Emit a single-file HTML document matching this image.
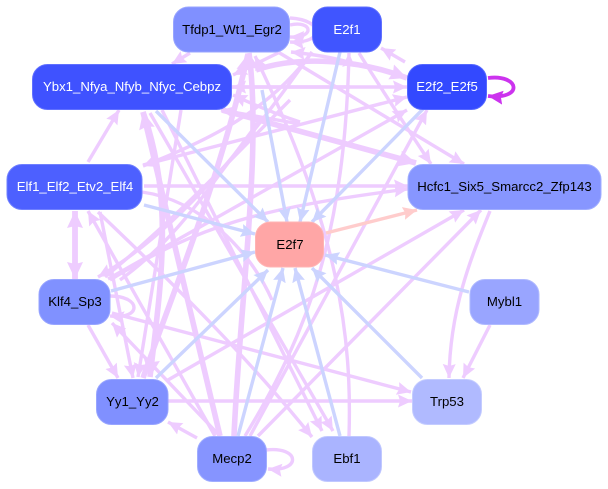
<!DOCTYPE html>
<html><head><meta charset="utf-8"><style>
html,body{margin:0;padding:0;background:#fff;width:608px;height:489px;overflow:hidden}
svg{display:block}
text{font-family:"Liberation Sans",sans-serif;font-size:13.2px;text-anchor:middle}
.p{fill:none;stroke:#eeccff;stroke-width:3.4;marker-end:url(#mp)}
.t{fill:none;stroke:#eeccff;stroke-width:5.6;marker-end:url(#mt)}
.n{fill:none;stroke:#eeccff;stroke-width:3.4}
.b{fill:none;stroke:#ccd4ff;stroke-width:3.4;marker-end:url(#mb)}
.r rect{stroke-width:1}
</style></head><body>
<svg width="608" height="489" viewBox="0 0 608 489" xmlns="http://www.w3.org/2000/svg">
<defs>
<marker id="mp" markerUnits="userSpaceOnUse" markerWidth="15" markerHeight="15" refX="14" refY="7.5" orient="auto"><path d="M0,1 L14,7.5 L0,14 L2,7.5 Z" fill="#eeccff"/></marker>
<marker id="mt" markerUnits="userSpaceOnUse" markerWidth="18" markerHeight="18" refX="17" refY="9" orient="auto"><path d="M0,1 L17,9 L0,17 L2,9 Z" fill="#eeccff"/></marker>
<marker id="mb" markerUnits="userSpaceOnUse" markerWidth="15" markerHeight="15" refX="14" refY="7.5" orient="auto"><path d="M0,1 L14,7.5 L0,14 L2,7.5 Z" fill="#ccd4ff"/></marker>
<marker id="mr" markerUnits="userSpaceOnUse" markerWidth="15" markerHeight="15" refX="14" refY="7.5" orient="auto"><path d="M0,1 L14,7.5 L0,14 L2,7.5 Z" fill="#ffcccc"/></marker>
<marker id="mm" markerUnits="userSpaceOnUse" markerWidth="16" markerHeight="16" refX="15" refY="8" orient="auto"><path d="M0,1 L15,8 L0,15 L2,8 Z" fill="#cc33ee"/></marker>
</defs>

<!-- pink edges -->
<path class="p" d="M190,53 L172,64"/>
<path class="p" d="M88,162 L119,110"/>
<path class="p" d="M405,62 L381,48"/>
<path class="p" d="M232,87 L407,87"/>
<path class="p" d="M350,87 L232,87"/>
<path class="t" d="M256,70 C300,55 360,60 407,78"/>
<path class="p" d="M360,66 C340,58 310,54 291,52"/>
<path class="p" d="M278,52 L464,164"/>
<path class="p" d="M359,53 C385,95 405,125 431,164"/>
<path class="t" d="M222,110 L416,163"/>
<path class="p" d="M300,124 L221,110"/>
<path class="p" d="M280,52 L233,75"/>
<path class="p" d="M300,122 C270,112 250,103 233,95"/>
<path class="t" d="M234,436 C240,300 262,150 249,53"/>
<path class="p" d="M349,436 C352,340 340,230 255,56"/>
<path class="p" d="M245,436 C310,330 345,230 349,53"/>
<path class="p" d="M250,436 L427,110"/>
<path class="p" d="M258,436 L481,210"/>
<path class="p" d="M168,380 L464,210"/>
<path class="t" d="M220,436 L143,112"/>
<path class="t" d="M143,378 C170,300 220,180 248,54"/>
<path class="t" d="M143,112 C175,200 160,290 150,377"/>
<path class="p" d="M181,110 L138,377"/>
<path class="p" d="M88,325 L118,378"/>
<path class="p" d="M100,212 L133,378"/>
<path class="t" d="M75,279 L75,211"/>
<path class="t" d="M75,211 L75,279"/>
<path class="p" d="M215,436 L88,211"/>
<path class="p" d="M98,212 C180,290 250,360 312,437"/>
<path class="p" d="M150,113 L333,431"/>
<path class="p" d="M162,110 L322,431"/>
<path class="p" d="M220,436 L112,323"/>
<path class="p" d="M112,313 L411,392"/>
<path class="p" d="M168,401 L412,401"/>
<path class="p" d="M490,211 C470,260 450,310 449,378"/>
<path class="p" d="M490,325 L463,378"/>
<path class="p" d="M144,186 L408,186"/>
<path class="p" d="M110,280 C200,225 260,208 408,189"/>
<path class="p" d="M143,165 L407,97"/>
<path class="p" d="M312,52 C270,110 210,140 143,166"/>
<path class="p" d="M108,279 L407,110"/>
<path class="p" d="M312,52 C250,140 180,230 98,277"/>
<path class="n" d="M105,277 C180,215 240,150 290,100"/>
<path class="n" d="M120,280 C175,240 200,200 260,120"/>
<path class="n" d="M142,192 C200,200 250,250 272,300"/>
<path class="p" d="M197,438 L168,422"/>
<path class="p" d="M266,450 C300,446 302,472 268,469"/>
<path class="p" d="M110,296 C142,296 142,320 110,316"/>
<path class="p" d="M290,18 C325,20 325,44 290,42"/>
<path class="p" d="M290,25 C312,20 316,38 290,37"/>

<!-- blue edges -->
<path class="b" d="M156,111 L268,222"/>
<path class="b" d="M262,90 L287,222"/>
<path class="b" d="M340,52 L300,222"/>
<path class="b" d="M423,109 L312,222"/>
<path class="b" d="M144,205 L255,234"/>
<path class="b" d="M111,291 L255,252"/>
<path class="b" d="M156,378 L268,270"/>
<path class="b" d="M238,436 L283,268"/>
<path class="b" d="M340,436 L295,268"/>
<path class="b" d="M422,378 L312,268"/>
<path class="b" d="M469,292 L325,255"/>
<path d="M326,233 L417,210" fill="none" stroke="#ffcccc" stroke-width="3.4" marker-end="url(#mr)"/>
<path d="M488,78 C520,74 524,100 488,96" fill="none" stroke="#cc33ee" stroke-width="3.8" marker-end="url(#mm)"/>

<!-- nodes -->
<g class="r">
<rect x="173.5" y="7" width="116" height="45" rx="15" fill="#8090ff" stroke="#98a5ff"/>
<rect x="312.5" y="7" width="69" height="45" rx="15" fill="#4055ff" stroke="#6070ff"/>
<rect x="32.5" y="64.5" width="199" height="45" rx="15" fill="#3f52ff" stroke="#6070ff"/>
<rect x="407.5" y="64.5" width="79" height="45" rx="15" fill="#3349ff" stroke="#5568ff"/>
<rect x="7" y="164.5" width="135" height="45" rx="15" fill="#4d60ff" stroke="#7080ff"/>
<rect x="408" y="164.5" width="193" height="45" rx="15" fill="#8796ff" stroke="#a0adff"/>
<rect x="255.5" y="222" width="68" height="45" rx="15" fill="#ffa6a6" stroke="#ffb4b4"/>
<rect x="39" y="279.5" width="71" height="45" rx="15" fill="#8091ff" stroke="#98a5ff"/>
<rect x="470" y="279.5" width="69" height="45" rx="15" fill="#99a5ff" stroke="#b0baff"/>
<rect x="96.5" y="379.5" width="71.5" height="45" rx="15" fill="#8090ff" stroke="#98a5ff"/>
<rect x="412.5" y="379.5" width="69" height="45" rx="15" fill="#b0baff" stroke="#c4ccff"/>
<rect x="197.5" y="436.5" width="69" height="45" rx="15" fill="#8694ff" stroke="#a0adff"/>
<rect x="312.5" y="436.5" width="69" height="45" rx="15" fill="#aab4ff" stroke="#c0c8ff"/>
</g>
<text x="232" y="34" fill="#000">Tfdp1_Wt1_Egr2</text>
<text x="347" y="34" fill="#fff">E2f1</text>
<text x="132" y="91" fill="#fff">Ybx1_Nfya_Nfyb_Nfyc_Cebpz</text>
<text x="447" y="91" fill="#fff">E2f2_E2f5</text>
<text x="75" y="191" fill="#fff">Elf1_Elf2_Etv2_Elf4</text>
<text x="504.5" y="191" fill="#000">Hcfc1_Six5_Smarcc2_Zfp143</text>
<text x="290" y="249" fill="#000">E2f7</text>
<text x="75" y="306" fill="#000">Klf4_Sp3</text>
<text x="504.5" y="306" fill="#000">Mybl1</text>
<text x="132.5" y="406" fill="#000">Yy1_Yy2</text>
<text x="447" y="406" fill="#000">Trp53</text>
<text x="232" y="463" fill="#000">Mecp2</text>
<text x="347" y="463" fill="#000">Ebf1</text>
</svg>
</body></html>
